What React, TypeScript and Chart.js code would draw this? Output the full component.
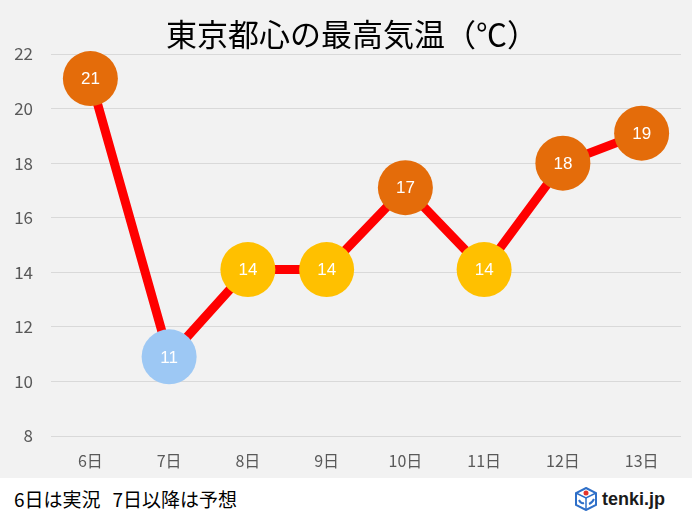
import React, { useEffect, useRef } from "react";
import { Chart, registerables } from "chart.js";

Chart.register(...registerables);

// ---- data ----
const categories = ["6日", "7日", "8日", "9日", "10日", "11日", "12日", "13日"];
const temps = [21.1, 10.9, 14.1, 14.1, 17.1, 14.1, 18.0, 19.1];
const tempLabels = ["21", "11", "14", "14", "17", "14", "18", "19"];
const yMin = 8;
const yMax = 22;
const yStep = 2;
const titleText = "東京都心の最高気温（℃）";
const noteParts = ["6日は実況", "7日以降は予想"];

const JP = '"Noto Sans CJK JP", "Noto Sans", sans-serif';

function markerColor(v: number): string {
  if (v >= 16.5) return "#E46C0A";
  if (v >= 12) return "#FFC000";
  return "#9DC8F4";
}

const labelPlugin = {
  id: "valueLabels",
  afterDatasetsDraw(chart: any) {
    const ctx = chart.ctx;
    const meta = chart.getDatasetMeta(0);
    ctx.save();
    ctx.fillStyle = "#FFFFFF";
    ctx.font = '17px "Liberation Sans", Arial, sans-serif';
    ctx.textAlign = "center";
    ctx.textBaseline = "middle";
    meta.data.forEach((pt: any, i: number) => {
      ctx.fillText(tempLabels[i], pt.x, pt.y + 1);
    });
    ctx.restore();
  },
};

const titlePlugin = {
  id: "customTitle",
  afterDraw(chart: any) {
    const ctx = chart.ctx;
    ctx.save();
    ctx.fillStyle = "#000000";
    ctx.font = '31px "Noto Sans CJK JP", sans-serif';
    ctx.textAlign = "center";
    ctx.textBaseline = "middle";
    ctx.fillText(titleText, 352, 34);
    ctx.restore();
  },
};

export default function App() {
  const ref = useRef<HTMLCanvasElement | null>(null);

  useEffect(() => {
    document.body.style.margin = "0";
    if (!ref.current) return;
    const chart = new Chart(ref.current, {
      type: "line",
      data: {
        labels: categories,
        datasets: [
          {
            data: temps,
            borderColor: "#FF0000",
            borderWidth: 9,
            pointRadius: 27.5,
            pointHoverRadius: 27.5,
            pointBorderWidth: 0,
            pointBackgroundColor: temps.map(markerColor),
            tension: 0,
            clip: false as any,
          },
        ],
      },
      options: {
        animation: false,
        responsive: false,
        events: [],
        layout: { autoPadding: false, padding: { left: 0, right: 11, top: 54, bottom: 0 } },
        plugins: {
          legend: { display: false },
          tooltip: { enabled: false },
          title: { display: false },
        },
        scales: {
          x: {
            offset: true,
            grid: { display: false, drawTicks: false },
            border: { display: false },
            ticks: {
              color: "#595959",
              font: { family: JP, size: 16 },
              padding: 15,
            },
            afterFit: (scale: any) => {
              scale.height = 42;
            },
          },
          y: {
            min: yMin,
            max: yMax,
            grid: { color: "#D9D9D9", drawTicks: false, lineWidth: 1 },
            border: { display: false },
            ticks: {
              stepSize: yStep,
              color: "#595959",
              font: { family: JP, size: 17 },
              padding: 18,
            },
            afterFit: (scale: any) => {
              scale.width = 51;
            },
          },
        },
      },
      plugins: [labelPlugin, titlePlugin],
    });
    return () => chart.destroy();
  }, []);

  return (
    <div
      style={{
        position: "absolute",
        left: 0,
        top: 0,
        width: 692,
        height: 522,
        background: "#FFFFFF",
      }}
    >
      <div style={{ width: 692, height: 478, background: "#F2F2F2" }}>
        <canvas ref={ref} width={692} height={478} style={{ display: "block" }} />
      </div>
      <div style={{ position: "relative", width: 692, height: 44 }}>
        <div
          style={{
            position: "absolute",
            left: 14,
            top: 8,
            fontFamily: JP,
            fontSize: 19,
            color: "#000000",
            lineHeight: "26px",
            whiteSpace: "pre",
          }}
        >
          <span>{noteParts[0]}</span>
          <span style={{ marginLeft: 12 }}>{noteParts[1]}</span>
        </div>
        <svg
          style={{ position: "absolute", left: 575, top: 9 }}
          width={22}
          height={24}
          viewBox="0 0 22 24"
        >
          <polygon points="11,1 21,6 21,18 11,23 1,18 1,6" fill="#FFFFFF" stroke="#2E6FC8" strokeWidth={2} />
          <polyline points="1,6 11,11 21,6" fill="none" stroke="#2E6FC8" strokeWidth={1.5} />
          <line x1={11} y1={11} x2={11} y2={23} stroke="#2E6FC8" strokeWidth={1.5} />
          <circle cx={11} cy={6} r={2.5} fill="#E5332A" />
          <path d="M4,13 q2,4 5,3" fill="none" stroke="#2E6FC8" strokeWidth={2} />
          <path d="M14,17 q3,-1 5,-5" fill="none" stroke="#2E6FC8" strokeWidth={2} />
        </svg>
        <div
          style={{
            position: "absolute",
            left: 602,
            top: 8,
            fontFamily: '"Liberation Sans", Arial, sans-serif',
            fontWeight: "bold",
            fontSize: 18,
            color: "#1A1A1A",
            lineHeight: "26px",
          }}
        >
          tenki.jp
        </div>
      </div>
    </div>
  );
}
